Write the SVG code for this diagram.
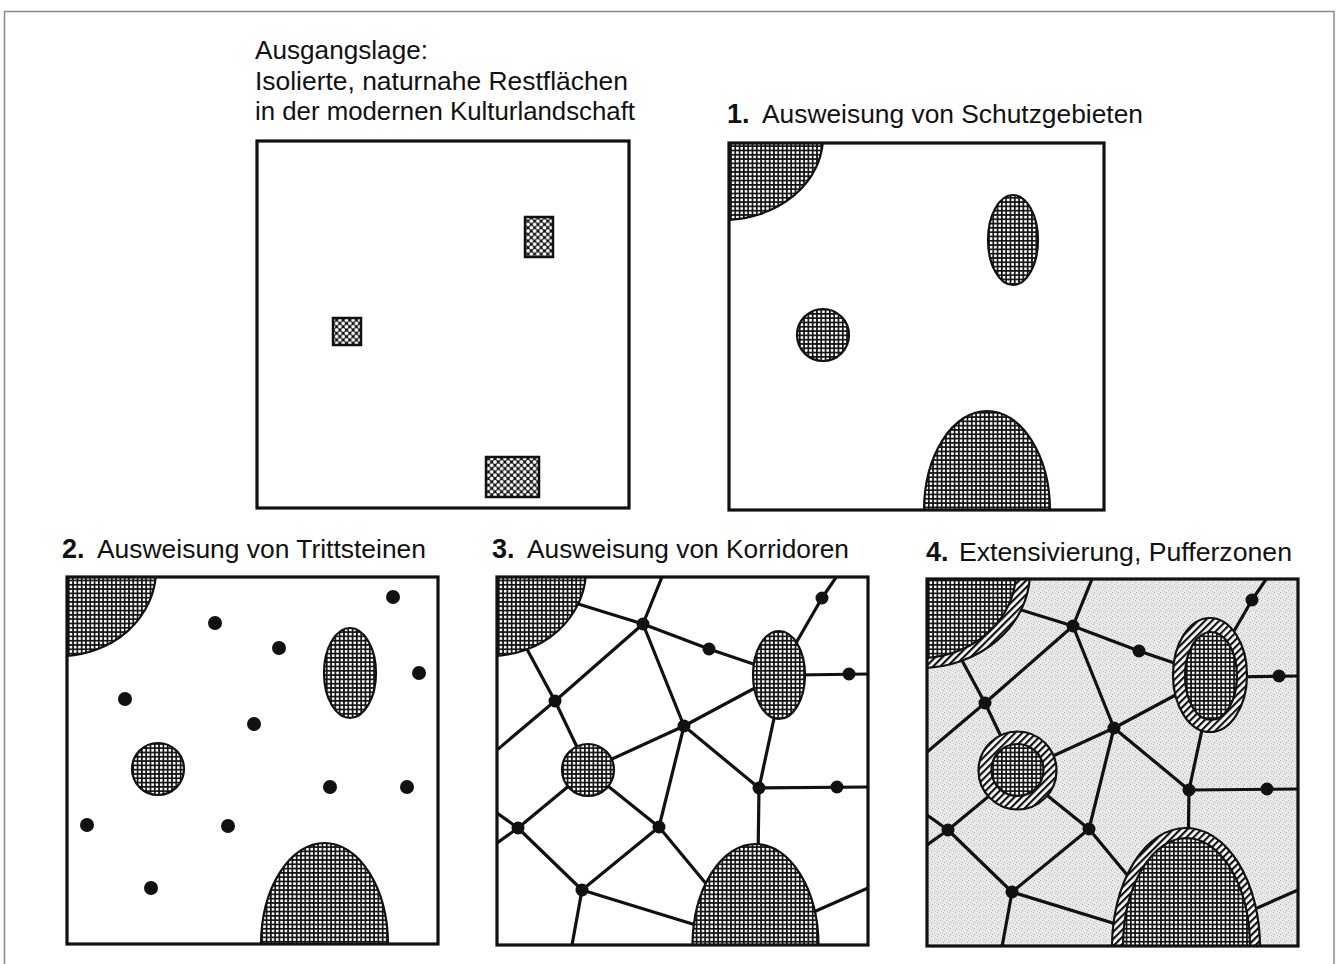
<svg xmlns="http://www.w3.org/2000/svg" xmlns:xlink="http://www.w3.org/1999/xlink" width="1336" height="964" viewBox="0 0 1336 964">
<style>
.box{fill:none;stroke:#111;stroke-width:3.2}
.res{fill:url(#checker);stroke:#111;stroke-width:2.2}
.rect0{fill:url(#net);stroke:#111;stroke-width:2.5}
.buf{fill:url(#stripes);stroke:#111;stroke-width:2.2}
.ln{stroke:#111;stroke-width:3.2;fill:none;stroke-linecap:round}
.dot{fill:#111}
.t{font-family:"Liberation Sans",Arial,sans-serif;fill:#111;font-size:25px}
.n{font-family:"Liberation Sans",Arial,sans-serif;fill:#111;font-size:27px;font-weight:bold}
</style>
<defs>
<pattern id="checker" width="4.3" height="4.3" patternUnits="userSpaceOnUse">
<rect width="4.3" height="4.3" fill="#111"/>
<rect x="0.8" y="0.8" width="2.6" height="2.6" fill="#fff"/>
</pattern>
<pattern id="net" width="6.6" height="6.6" patternUnits="userSpaceOnUse">
<rect width="6.6" height="6.6" fill="#111"/>
<circle cx="0" cy="0" r="1.9" fill="#fff"/>
<circle cx="6.6" cy="0" r="1.9" fill="#fff"/>
<circle cx="0" cy="6.6" r="1.9" fill="#fff"/>
<circle cx="6.6" cy="6.6" r="1.9" fill="#fff"/>
<circle cx="3.3" cy="3.3" r="1.9" fill="#fff"/>
</pattern>
<pattern id="stripes" width="5" height="5" patternUnits="userSpaceOnUse" patternTransform="rotate(45)">
<rect width="5" height="5" fill="#fff"/>
<rect width="2.2" height="5" fill="#111"/>
</pattern>
<pattern id="stipple" width="6" height="6" patternUnits="userSpaceOnUse">
<rect width="6" height="6" fill="#e9e9e9"/>
<rect x="1" y="0" width="1" height="1" fill="#b5b5b5"/>
<rect x="4" y="2" width="1" height="1" fill="#c0c0c0"/>
<rect x="2" y="4" width="1" height="1" fill="#b0b0b0"/>
<rect x="5" y="5" width="1" height="1" fill="#c8c8c8"/>
<rect x="0" y="3" width="1" height="1" fill="#cfcfcf"/>
</pattern>
<g id="net3">
<line class="ln" x1="575" y1="603" x2="643" y2="624"/>
<line class="ln" x1="643" y1="624" x2="662" y2="577"/>
<polyline class="ln" points="643,624 709,649 765,668"/>
<line class="ln" x1="822" y1="598" x2="837" y2="576"/>
<line class="ln" x1="822" y1="598" x2="785" y2="662"/>
<line class="ln" x1="795" y1="675" x2="868" y2="674"/>
<line class="ln" x1="522" y1="640" x2="555" y2="701"/>
<line class="ln" x1="555" y1="701" x2="588" y2="770"/>
<line class="ln" x1="555" y1="701" x2="497" y2="750"/>
<line class="ln" x1="555" y1="701" x2="643" y2="624"/>
<line class="ln" x1="643" y1="624" x2="684" y2="726"/>
<line class="ln" x1="684" y1="726" x2="768" y2="681"/>
<line class="ln" x1="684" y1="726" x2="588" y2="770"/>
<line class="ln" x1="684" y1="726" x2="759" y2="788"/>
<line class="ln" x1="684" y1="726" x2="659" y2="827"/>
<line class="ln" x1="778" y1="700" x2="759" y2="788"/>
<line class="ln" x1="759" y1="788" x2="868" y2="787"/>
<line class="ln" x1="759" y1="788" x2="758" y2="860"/>
<line class="ln" x1="588" y1="770" x2="518" y2="828"/>
<line class="ln" x1="497" y1="813" x2="518" y2="828"/>
<line class="ln" x1="497" y1="843" x2="518" y2="828"/>
<line class="ln" x1="588" y1="770" x2="659" y2="827"/>
<line class="ln" x1="518" y1="828" x2="582" y2="890"/>
<line class="ln" x1="582" y1="890" x2="659" y2="827"/>
<line class="ln" x1="659" y1="827" x2="722" y2="903"/>
<line class="ln" x1="582" y1="890" x2="712" y2="930"/>
<line class="ln" x1="582" y1="890" x2="572" y2="945"/>
<line class="ln" x1="800" y1="918" x2="868" y2="888"/>
<circle class="dot" cx="643" cy="624" r="6.5"/>
<circle class="dot" cx="709" cy="649" r="6.5"/>
<circle class="dot" cx="822" cy="598" r="6.5"/>
<circle class="dot" cx="849" cy="674" r="6.5"/>
<circle class="dot" cx="555" cy="701" r="6.5"/>
<circle class="dot" cx="684" cy="726" r="6.5"/>
<circle class="dot" cx="759" cy="788" r="6.5"/>
<circle class="dot" cx="837" cy="787" r="6.5"/>
<circle class="dot" cx="518" cy="828" r="6.5"/>
<circle class="dot" cx="659" cy="827" r="6.5"/>
<circle class="dot" cx="582" cy="890" r="6.5"/>
</g>
<clipPath id="clip1"><rect x="729" y="143" width="375" height="367"/></clipPath>
<clipPath id="clip2"><rect x="67" y="577" width="371" height="367"/></clipPath>
<clipPath id="clip3"><rect x="497" y="577" width="371" height="368"/></clipPath>
<clipPath id="clip4"><rect x="927" y="579" width="371" height="367"/></clipPath>
</defs>

<rect width="1336" height="964" fill="#fff"/>
<path d="M4.5,964 V11.5 H1334 V964" fill="none" stroke="#8a8a8a" stroke-width="1.5"/>

<g id="titles">
<text class="t" x="255" y="59" textLength="173" lengthAdjust="spacingAndGlyphs">Ausgangslage:</text>
<text class="t" x="255" y="90" textLength="373" lengthAdjust="spacingAndGlyphs">Isolierte, naturnahe Restflächen</text>
<text class="t" x="255" y="120" textLength="380" lengthAdjust="spacingAndGlyphs">in der modernen Kulturlandschaft</text>
<text class="n" x="727" y="123">1.</text>
<text class="t" x="762" y="123" textLength="381" lengthAdjust="spacingAndGlyphs">Ausweisung von Schutzgebieten</text>
<text class="n" x="62" y="558">2.</text>
<text class="t" x="97" y="558" textLength="329" lengthAdjust="spacingAndGlyphs">Ausweisung von Trittsteinen</text>
<text class="n" x="492" y="558">3.</text>
<text class="t" x="527" y="558" textLength="322" lengthAdjust="spacingAndGlyphs">Ausweisung von Korridoren</text>
<text class="n" x="926" y="561">4.</text>
<text class="t" x="959" y="561" textLength="333" lengthAdjust="spacingAndGlyphs">Extensivierung, Pufferzonen</text>
</g>

<g id="panel0">
<rect x="257" y="141" width="372" height="367" fill="#fff"/>
<rect class="rect0" x="525" y="217" width="28" height="40"/>
<rect class="rect0" x="333" y="318" width="28" height="27"/>
<rect class="rect0" x="486" y="457" width="53" height="40"/>
<rect class="box" x="257" y="141" width="372" height="367"/>
</g>

<g id="panel1">
<g clip-path="url(#clip1)">
<ellipse class="res" cx="723" cy="137" rx="100" ry="83"/>
<ellipse class="res" cx="1013" cy="240" rx="25" ry="45"/>
<circle class="res" cx="823" cy="335" r="26"/>
<path class="res" d="M924,511 A63,100 0 0 1 1050,511 Z"/>
</g>
<rect class="box" x="729" y="143" width="375" height="367"/>
</g>

<g id="panel2">
<g clip-path="url(#clip2)">
<ellipse class="res" cx="60" cy="570" rx="96" ry="86"/>
<ellipse class="res" cx="350" cy="673" rx="26" ry="45"/>
<circle class="res" cx="158" cy="769" r="26"/>
<path class="res" d="M261,945 A63.5,102 0 0 1 388,945 Z"/>
</g>
<circle class="dot" cx="393" cy="597" r="7"/>
<circle class="dot" cx="215" cy="623" r="7"/>
<circle class="dot" cx="279" cy="648" r="7"/>
<circle class="dot" cx="419" cy="673" r="7"/>
<circle class="dot" cx="125" cy="699" r="7"/>
<circle class="dot" cx="254" cy="724" r="7"/>
<circle class="dot" cx="330" cy="787" r="7"/>
<circle class="dot" cx="407" cy="787" r="7"/>
<circle class="dot" cx="87" cy="825" r="7"/>
<circle class="dot" cx="228" cy="826" r="7"/>
<circle class="dot" cx="151" cy="888" r="7"/>
<rect class="box" x="67" y="577" width="371" height="367"/>
</g>

<g id="panel3">
<g clip-path="url(#clip3)">
<use xlink:href="#net3" href="#net3"/>
<ellipse class="res" cx="490" cy="570" rx="96" ry="86"/>
<ellipse class="res" cx="779" cy="675" rx="26" ry="44"/>
<circle class="res" cx="588" cy="770" r="26"/>
<path class="res" d="M692.5,946 A63,102 0 0 1 818.5,946 Z"/>
</g>
<rect class="box" x="497" y="577" width="371" height="368"/>
</g>

<g id="panel4">
<rect x="927" y="579" width="371" height="367" fill="url(#stipple)"/>
<g clip-path="url(#clip4)">
<use xlink:href="#net3" href="#net3" transform="translate(430,2)"/>
<ellipse class="buf" cx="920" cy="572" rx="110" ry="96"/>
<ellipse class="res" cx="920" cy="572" rx="96" ry="86"/>
<ellipse class="buf" cx="1210" cy="675" rx="37" ry="57"/>
<ellipse class="res" cx="1211" cy="676" rx="26" ry="44"/>
<circle class="buf" cx="1017.5" cy="770.5" r="39"/>
<circle class="res" cx="1017.5" cy="770" r="26"/>
<path class="buf" d="M1112,947 A74,119 0 0 1 1260,947 Z"/>
<path class="res" d="M1123,947 A63.5,109 0 0 1 1250,947 Z"/>
</g>
<rect class="box" x="927" y="579" width="371" height="367"/>
</g>
</svg>
